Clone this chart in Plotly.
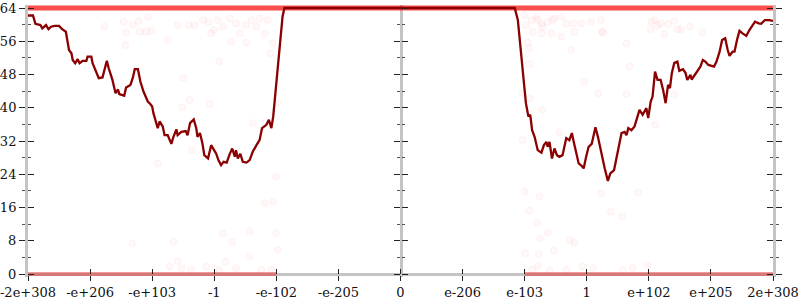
import plotly.graph_objects as go

# x positions are in tick-slot units of the (ordered-float) axis: -6 .. 6
tick_pos = [-6, -5, -4, -3, -2, -1, 0, 1, 2, 3, 4, 5, 6]
tick_text = ["-2e+308", "-e+206", "-e+103", "-1", "-e-102", "-e-205", "0",
             "e-206", "e-103", "1", "e+102", "e+205", "2e+308"]
y_ticks = [0, 8, 16, 24, 32, 40, 48, 56, 64]
y_minor_ticks = [4, 12, 20, 28, 36, 44, 52, 60]

# main (dark red) curve
line_x = [-6.0, -5.92, -5.88, -5.80, -5.77, -5.71, -5.67, -5.63, -5.57, -5.50, -5.45, -5.39,
          -5.34, -5.30, -5.28, -5.24, -5.20, -5.17, -5.12, -5.06, -5.04, -4.98, -4.96, -4.91,
          -4.86, -4.80, -4.76, -4.73, -4.70, -4.64, -4.59, -4.55, -4.53, -4.45, -4.42, -4.35,
          -4.31, -4.28, -4.23, -4.19, -4.14, -4.10, -4.07, -4.03, -4.00, -3.98, -3.94, -3.91,
          -3.88, -3.83, -3.80, -3.75, -3.69, -3.66, -3.61, -3.59, -3.53, -3.46, -3.43, -3.39,
          -3.33, -3.29, -3.27, -3.23, -3.19, -3.16, -3.10, -3.05, -3.01, -2.97, -2.93, -2.89,
          -2.85, -2.80, -2.75, -2.71, -2.67, -2.65, -2.62, -2.58, -2.54, -2.48, -2.43, -2.38,
          -2.32, -2.27, -2.23, -2.16, -2.12, -2.08, -2.05, -2.00, -1.95, -1.90, -1.87,
          1.84, 1.89, 1.94, 1.99, 2.02, 2.06, 2.09, 2.12, 2.16, 2.21, 2.27, 2.31, 2.35, 2.37,
          2.40, 2.44, 2.48, 2.52, 2.56, 2.61, 2.67, 2.72, 2.76, 2.79, 2.83, 2.87, 2.92, 2.95,
          2.99, 3.03, 3.08, 3.14, 3.18, 3.23, 3.29, 3.34, 3.38, 3.44, 3.50, 3.56, 3.61, 3.64,
          3.67, 3.72, 3.77, 3.82, 3.85, 3.90, 3.96, 3.99, 4.03, 4.06, 4.10, 4.14, 4.19, 4.23,
          4.27, 4.31, 4.34, 4.37, 4.41, 4.46, 4.49, 4.55, 4.59, 4.62, 4.67, 4.69, 4.75, 4.80,
          4.83, 4.87, 4.91, 4.96, 5.05, 5.09, 5.14, 5.18, 5.23, 5.27, 5.30, 5.35, 5.38, 5.42,
          5.46, 5.51, 5.57, 5.62, 5.66, 5.71, 5.77, 5.81, 5.87, 5.94, 6.0]
line_y = [62.2, 62.2, 60.2, 59.9, 59.1, 59.9, 58.9, 59.5, 59.7, 59.7, 58.9, 58.3,
          53.9, 53.1, 51.5, 50.7, 51.7, 50.7, 51.3, 51.3, 52.3, 52.3, 50.7, 48.7,
          47.1, 47.3, 49.5, 51.3, 49.5, 46.7, 43.5, 44.4, 43.3, 42.9, 44.9, 45.5,
          47.3, 49.3, 49.3, 46.3, 43.9, 42.7, 41.5, 40.9, 40.3, 38.7, 36.3, 35.1,
          36.7, 35.5, 33.4, 33.4, 31.3, 32.9, 34.8, 33.4, 34.2, 34.4, 33.4, 36.3,
          37.2, 35.1, 33.0, 33.9, 31.4, 28.6, 27.8, 31.0, 30.0, 29.0, 27.3, 26.2,
          27.0, 26.8, 28.9, 30.2, 28.2, 29.8, 27.8, 28.9, 27.0, 26.8, 27.4, 29.4,
          31.0, 32.2, 35.1, 35.9, 37.1, 35.1, 37.9, 45.9, 54.7, 61.9, 64.0,
          64.0, 61.1, 53.9, 45.9, 41.1, 37.9, 38.3, 34.6, 33.0, 29.8, 29.2, 31.0, 31.8, 30.6,
          31.8, 27.8, 30.2, 28.6, 28.2, 28.6, 32.7, 32.2, 33.9, 31.8, 29.0, 26.6, 26.0, 25.4,
          28.2, 30.6, 31.3, 35.3, 33.0, 29.4, 25.4, 22.4, 24.2, 25.0, 29.8, 33.9, 34.2, 33.4,
          35.1, 34.6, 35.5, 38.3, 39.5, 38.3, 39.9, 37.5, 41.5, 42.7, 48.7, 46.7, 46.7, 44.3,
          41.1, 45.5, 44.7, 48.3, 50.8, 51.1, 48.9, 49.3, 48.4, 46.7, 47.9, 46.8, 48.1, 49.1,
          49.9, 51.5, 51.1, 50.3, 49.9, 51.1, 53.5, 56.3, 56.7, 53.9, 52.5, 53.5, 53.5, 56.3,
          58.5, 57.9, 57.3, 58.7, 59.5, 60.7, 60.3, 60.2, 61.1, 61.1, 60.9]

# faint red sample dots
dots_x = [-4.77, -4.46, -4.42, -4.31, -4.22, -4.20, -4.10, -4.07, -4.01, -4.43, -3.75, -3.59,
          -3.41, -3.32, -3.18, -3.09, -3.05, -3.00, -2.94, -2.86, -2.75, -2.73, -2.65, -2.59,
          -2.49, -2.48, -2.40, -2.32, -2.27, -2.19, -2.14, -2.06, -2.10, -2.92, -3.50, -3.40,
          -3.08, -3.52, -2.38, -1.98, -2.01, -3.36, -3.91,
          -4.32, -3.66, -3.59, -3.72, -3.53, -3.37, -3.13, -2.92, -2.86, -2.82, -2.71, -2.65,
          -2.44, -2.43, -2.24, -2.19, -2.05, -2.08, -2.00, -1.98,
          2.00, 2.02, 2.11, 2.19, 2.21, 2.27, 2.29, 2.37, 2.45, 2.48, 2.59, 2.67, 2.78, 2.80,
          2.91, 3.07, 3.24, 2.13, 2.27, 2.43, 2.59, 2.05, 2.07, 2.75, 2.07, 2.96, 3.18, 3.64,
          3.64, 3.69, 1.97, 2.09, 2.28, 2.56, 1.97, 2.00, 2.24, 3.23, 3.83, 3.23, 3.26, 4.04,
          4.09, 4.14, 4.19, 4.31, 4.41, 4.46, 4.52, 4.66, 4.87, 4.25, 4.03, 4.41, 4.10,
          2.07, 2.20, 2.37, 2.24, 2.73, 2.80, 2.01, 2.23, 2.47, 2.21, 2.12, 2.40, 2.67, 2.93,
          3.10, 3.39, 3.57, 3.58, 3.74, 3.98]
dots_y = [59.5, 60.7, 58.1, 59.9, 60.9, 58.3, 58.3, 61.8, 58.5, 55.1, 56.3, 59.9,
          59.9, 59.9, 61.1, 60.7, 57.9, 58.7, 61.1, 59.5, 61.5, 55.9, 60.3, 57.9,
          59.9, 55.7, 61.1, 59.5, 61.5, 57.9, 61.1, 55.5, 53.1, 51.1, 47.2, 41.9,
          40.9, 40.1, 36.3, 41.2, 23.4, 29.7, 26.6,
          7.4, 7.8, 3.1, 1.8, 1.4, 1.0, 1.8, 1.0, 9.8, 3.0, 7.8, 1.4,
          4.2, 10.3, 1.0, 17.0, 17.4, 1.0, 9.8, 5.8,
          62.3, 59.9, 61.1, 61.9, 61.1, 60.2, 59.5, 60.7, 61.1, 61.5, 61.9, 60.3, 60.3, 58.3,
          60.3, 60.7, 58.3, 58.3, 57.9, 57.9, 57.1, 55.7, 54.3, 53.9, 50.5, 46.4, 43.5, 43.3,
          55.5, 49.9, 43.5, 42.3, 39.5, 34.0, 32.2, 19.8, 18.6, 19.4, 19.6, 61.1, 58.1, 60.7,
          61.1, 59.8, 60.3, 60.2, 60.9, 58.9, 58.9, 59.5, 58.1, 57.7, 58.9, 43.2, 35.9,
          15.2, 12.3, 9.9, 8.6, 8.2, 7.5, 5.0, 4.8, 5.6, 1.9, 1.1, 0.8, 1.0, 1.8,
          1.4, 15.0, 13.8, 1.0, 1.4, 2.2]

# dense bands of dots that saturate at the extremes
top_band_x = [-6, 6]
top_band_y = [64, 64]
bottom_band_left_x = [-6, -2]
bottom_band_right_x = [2, 6]
bottom_band_y = [0, 0]

font = dict(family="DejaVu Serif", size=13, color="#111")
axis_gray = "#c4c4c4"

# a little headroom beyond [0, 64] so the saturated bands are not clipped
pad = 3 / (266 / 64)
y_range = [-pad, 64 + pad]
x_axis_pos = 3 / 272

fig = go.Figure()
fig.add_trace(go.Scatter(x=top_band_x, y=top_band_y, mode="lines",
                         line=dict(color="rgba(245,10,10,0.72)", width=5),
                         hoverinfo="skip"))
fig.add_trace(go.Scatter(x=bottom_band_left_x, y=bottom_band_y, mode="lines",
                         line=dict(color="rgba(230,30,30,0.45)", width=4),
                         hoverinfo="skip"))
fig.add_trace(go.Scatter(x=bottom_band_right_x, y=bottom_band_y, mode="lines",
                         line=dict(color="rgba(230,30,30,0.45)", width=4),
                         hoverinfo="skip"))
fig.add_trace(go.Scatter(x=dots_x, y=dots_y, mode="markers",
                         marker=dict(size=7, color="rgba(255,60,60,0.035)",
                                     line=dict(color="rgba(255,60,60,0.05)", width=1)),
                         hoverinfo="skip", cliponaxis=False))
fig.add_trace(go.Scatter(x=line_x, y=line_y, mode="lines",
                         line=dict(color="#8b0000", width=2.3)))

common_y = dict(range=y_range, tickvals=y_ticks, showgrid=False, zeroline=False,
                tickcolor="#222", tickwidth=1, fixedrange=True, automargin=False)

def minor(kind):
    return dict(ticks=kind, ticklen=3, tickvals=y_minor_ticks, tickcolor="#555", showgrid=False)

fig.update_layout(
    width=800, height=300,
    margin=dict(l=28, r=27, t=5, b=23, autoexpand=False),
    paper_bgcolor="white", plot_bgcolor="white",
    showlegend=False,
    font=font,
    xaxis=dict(range=[-6, 6], tickvals=tick_pos, ticktext=tick_text,
               anchor="free", position=x_axis_pos, ticklabeloverflow="allow",
               ticks="outside", ticklen=5, tickcolor="#222", tickwidth=1,
               showline=True, linecolor=axis_gray, linewidth=3, automargin=False,
               showgrid=False, zeroline=False, layer="below traces"),
    xaxis2=dict(range=[-6, 6], overlaying="x", anchor="free", position=x_axis_pos,
                side="bottom",
                tickvals=tick_pos, ticks="inside", ticklen=5, tickcolor="#222",
                automargin=False,
                showticklabels=False, showline=False, showgrid=False, zeroline=False),
    yaxis=dict(**common_y, ticks="outside", ticklen=6, minor=minor("outside"),
               showline=True, linecolor=axis_gray, linewidth=3, mirror="ticks",
               layer="below traces"),
    yaxis2=dict(**common_y, overlaying="y", anchor="x", side="left",
                ticks="inside", ticklen=6, mirror="ticks", minor=minor("inside"),
                showticklabels=False, showline=False),
    yaxis3=dict(**common_y, overlaying="y", anchor="free", position=0.5, side="left",
                ticks="outside", ticklen=6, minor=minor("outside"),
                showticklabels=False, showline=True, linecolor=axis_gray, linewidth=3,
                layer="below traces"),
    yaxis4=dict(**common_y, overlaying="y", anchor="free", position=0.5, side="left",
                ticks="inside", ticklen=6, minor=minor("inside"),
                showticklabels=False, showline=False),
)

# dummy invisible traces so the overlay axes are drawn
for ax_x, ax_y in [("x2", "y"), ("x", "y2"), ("x", "y3"), ("x", "y4")]:
    fig.add_trace(go.Scatter(x=[None], y=[None], xaxis=ax_x, yaxis=ax_y,
                             mode="markers", hoverinfo="skip", showlegend=False))

fig.write_html("out.html")
